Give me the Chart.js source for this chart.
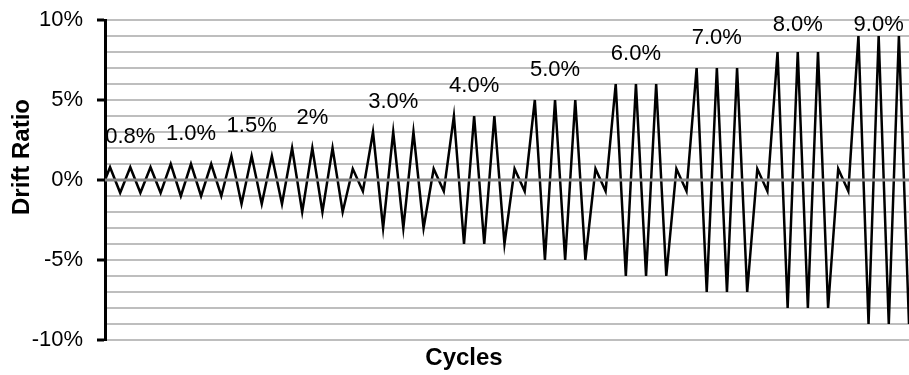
<!DOCTYPE html>
<html>
<head>
<meta charset="utf-8">
<script src="https://cdn.jsdelivr.net/npm/chart.js@4.4.1/dist/chart.umd.min.js"></script>
<style>
  body { margin: 0; background: #fff; }
  #wrap { width: 909px; height: 375px; position: relative; }
</style>
</head>
<body>
<div id="wrap"><canvas id="drift"></canvas></div>
<script>
// cycle position of each point (peaks and troughs at quarter cycles)
const cycles = [0,
  0.25, 0.75, 1.25, 1.75, 2.25, 2.75,
  3.25, 3.75, 4.25, 4.75, 5.25, 5.75,
  6.25, 6.75, 7.25, 7.75, 8.25, 8.75,
  9.25, 9.75, 10.25, 10.75, 11.25, 11.75,
  12.25, 12.75,
  13.25, 13.75, 14.25, 14.75, 15.25, 15.75,
  16.25, 16.75,
  17.25, 17.75, 18.25, 18.75, 19.25, 19.75,
  20.25, 20.75,
  21.25, 21.75, 22.25, 22.75, 23.25, 23.75,
  24.25, 24.75,
  25.25, 25.75, 26.25, 26.75, 27.25, 27.75,
  28.25, 28.75,
  29.25, 29.75, 30.25, 30.75, 31.25, 31.75,
  32.25, 32.75,
  33.25, 33.75, 34.25, 34.75, 35.25, 35.75,
  36.25, 36.75,
  37.25, 37.75, 38.25, 38.75, 39.25, 39.75];

// drift ratio in %
const drift = [0,
  0.8, -0.8, 0.8, -0.8, 0.8, -0.8,
  1, -1, 1, -1, 1, -1,
  1.5, -1.5, 1.5, -1.5, 1.5, -1.5,
  2, -2, 2, -2, 2, -2,
  0.7, -0.7,
  3, -3, 3, -3, 3, -3,
  0.7, -0.7,
  4, -4, 4, -4, 4, -4,
  0.7, -0.7,
  5, -5, 5, -5, 5, -5,
  0.7, -0.7,
  6, -6, 6, -6, 6, -6,
  0.7, -0.7,
  7, -7, 7, -7, 7, -7,
  0.7, -0.7,
  8, -8, 8, -8, 8, -8,
  0.7, -0.7,
  9, -9, 9, -9, 9, -9];

// stage labels and the point (middle peak) each one sits over
const stageLabels = ['0.8%', '1.0%', '1.5%', '2%', '3.0%', '4.0%', '5.0%', '6.0%', '7.0%', '8.0%', '9.0%'];
const stagePeak = [3, 9, 15, 21, 29, 37, 45, 53, 61, 69, 77];

const yTicks = [-10, -5, 0, 5, 10];

const points = cycles.map((c, i) => ({ x: c, y: drift[i] }));

const FONT = '"Liberation Sans", Arial, sans-serif';

const overlay = {
  id: 'overlay',
  afterDatasetsDraw(chart) {
    const ctx = chart.ctx;
    const area = chart.chartArea;
    const y = chart.scales.y;
    const meta = chart.getDatasetMeta(0);

    // zero axis line on top of the series
    ctx.save();
    ctx.strokeStyle = '#868686';
    ctx.lineWidth = 3;
    ctx.beginPath();
    ctx.moveTo(area.left, y.getPixelForValue(0));
    ctx.lineTo(area.right, y.getPixelForValue(0));
    ctx.stroke();
    ctx.restore();

    // stage labels
    ctx.save();
    ctx.beginPath();
    ctx.rect(area.left + 2, 0, area.right - area.left, chart.height);
    ctx.clip();
    ctx.font = '22px ' + FONT;
    ctx.fillStyle = '#000';
    ctx.textAlign = 'center';
    ctx.textBaseline = 'middle';
    stageLabels.forEach((txt, i) => {
      const idx = stagePeak[i];
      const px = meta.data[idx].x;
      const py = y.getPixelForValue(Math.min(drift[idx] + 1.9, 9.7));
      ctx.fillText(txt, px, py);
    });
    ctx.restore();
  },
  afterDraw(chart) {
    const ctx = chart.ctx;
    ctx.save();
    ctx.fillStyle = '#000';
    ctx.font = 'bold 24px ' + FONT;
    ctx.textAlign = 'center';
    ctx.textBaseline = 'middle';
    ctx.fillText('Cycles', 464, 358);
    ctx.translate(22, 157);
    ctx.rotate(-Math.PI / 2);
    ctx.fillText('Drift Ratio', 0, 0);
    ctx.restore();
  }
};

new Chart(document.getElementById('drift'), {
  type: 'line',
  data: {
    datasets: [{
      data: points,
      borderColor: '#000',
      borderWidth: 2.5,
      pointRadius: 0,
      tension: 0,
      fill: false
    }]
  },
  options: {
    responsive: true,
    maintainAspectRatio: false,
    animation: false,
    events: [],
    layout: { padding: { top: 20, right: 0, left: 0, bottom: 0 } },
    plugins: {
      legend: { display: false },
      tooltip: { enabled: false }
    },
    scales: {
      x: {
        type: 'linear',
        min: 0,
        max: 39.75,
        ticks: { display: false },
        grid: { display: false, drawTicks: false },
        border: { display: false },
        afterFit: (s) => { s.height = 35; }
      },
      y: {
        min: -10,
        max: 10,
        ticks: {
          stepSize: 1,
          autoSkip: false,
          padding: 14,
          color: '#000',
          font: { family: FONT, size: 22 },
          callback: (v) => yTicks.includes(v) ? v + '%' : ''
        },
        grid: {
          color: '#bebebe',
          lineWidth: 2,
          drawTicks: true,
          tickLength: 8,
          tickWidth: 3,
          tickColor: (c) => yTicks.includes(c.tick.value) ? '#000' : 'rgba(0,0,0,0)'
        },
        border: { color: '#000', width: 3 },
        afterFit: (s) => { s.width = 105; s.paddingTop = 0; s.paddingBottom = 0; }
      }
    }
  },
  plugins: [overlay]
});
</script>
</body>
</html>
